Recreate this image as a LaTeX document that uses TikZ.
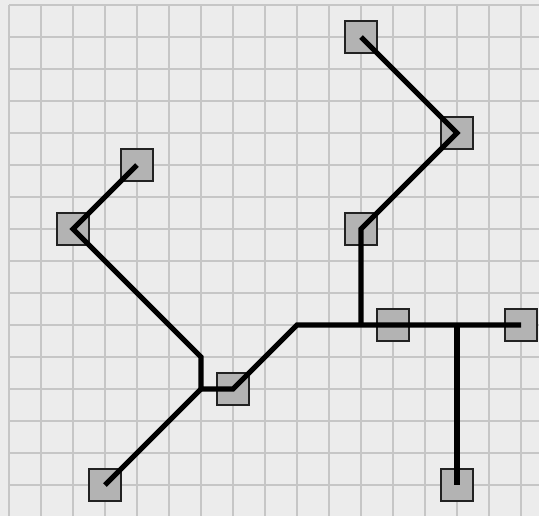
\documentclass[tikz,border=0pt]{standalone}
\definecolor{bg}{HTML}{ECECEC}
\definecolor{gridc}{HTML}{C6C6C6}
\definecolor{boxfill}{HTML}{B3B3B3}
\definecolor{boxline}{HTML}{222222}
\tikzset{
  sq/.style={draw=boxline, fill=boxfill, line width=0.7pt, minimum size=16pt, inner sep=0pt, outer sep=0pt},
  wire/.style={line width=2.6pt, black},
  gline/.style={gridc, line width=1pt}
}
\begin{document}
\begin{tikzpicture}[x=0.5pt, y=-0.5pt]
\fill[bg] (0,0) rectangle (539,516);
\useasboundingbox (0,0) rectangle (539,516);
\foreach \i in {0,...,16} { \draw[gline] ({9+32*\i},5) -- ({9+32*\i},516); }
\foreach \j in {0,...,15} { \draw[gline] (9,{5+32*\j}) -- (539,{5+32*\j}); }
% boxes
\node[sq] (a) at (361,37) {};
\node[sq] (b) at (457,133) {};
\node[sq] (c) at (361,229) {};
\node[sq] (d) at (137,165) {};
\node[sq] (e) at (73,229) {};
\node[sq] (f) at (233,389) {};
\node[sq] (g) at (105,485) {};
\node[sq] (h) at (393,325) {};
\node[sq] (i) at (521,325) {};
\node[sq] (k) at (457,485) {};
% bend points
\coordinate (p1) at (201,357);
\coordinate (p2) at (201,389);
\coordinate (p3) at (297,325);
\coordinate (p4) at (361,325);
\coordinate (p5) at (457,325);
% wires
\draw[wire] (a.center) -- (b.center) -- (c.center) -- (p4);
\draw[wire] (d.center) -- (e.center) -- (p1) -- (p2) -- (f.center) -- (p3) -- (p4) -- (h.center) -- (p5) -- (i.center);
\draw[wire] (p2) -- (g.center);
\draw[wire] (p5) -- (k.center);
\end{tikzpicture}
\end{document}
